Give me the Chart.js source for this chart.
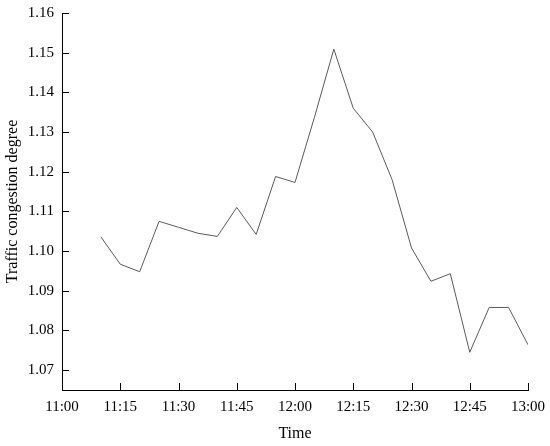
<!DOCTYPE html>
<html>
<head>
<meta charset="utf-8">
<script src="https://cdn.jsdelivr.net/npm/chart.js@4.4.0/dist/chart.umd.min.js"></script>
<style>
  html, body { margin: 0; padding: 0; background: #fff; }
  #wrap { width: 550px; height: 446px; position: relative; }
</style>
</head>
<body>
<div id="wrap"><canvas id="myChart"></canvas></div>
<script>
const times = ["11:10", "11:15", "11:20", "11:25", "11:30", "11:35", "11:40", "11:45", "11:50", "11:55",
  "12:00", "12:05", "12:10", "12:15", "12:20", "12:25", "12:30", "12:35", "12:40", "12:45",
  "12:50", "12:55", "13:00"];
const congestion = [1.1036, 1.0967, 1.0948, 1.1075, 1.1060, 1.1045, 1.1037, 1.1110, 1.1042, 1.1188,
  1.1173, 1.1337, 1.1509, 1.1360, 1.1300, 1.1180, 1.1008, 1.0924, 1.0943, 1.0745,
  1.0858, 1.0858, 1.0764];
const xTickLabels = ["11:00", "11:15", "11:30", "11:45", "12:00", "12:15", "12:30", "12:45", "13:00"];
const yTicks = [1.07, 1.08, 1.09, 1.10, 1.11, 1.12, 1.13, 1.14, 1.15, 1.16];

const toMin = t => { const p = t.split(":"); return +p[0] * 60 + +p[1]; };
const fmtMin = m => Math.floor(m / 60) + ":" + String(m % 60).padStart(2, "0");

const serif = "'Liberation Serif', 'Times New Roman', serif";

// inward tick marks on both axes
const innerTicks = {
  id: "innerTicks",
  afterDraw(chart) {
    const ctx = chart.ctx;
    const x = chart.scales.x, y = chart.scales.y;
    ctx.save();
    ctx.strokeStyle = "#000";
    ctx.lineWidth = 1;
    ctx.beginPath();
    x.ticks.forEach(t => {
      const px = Math.round(x.getPixelForValue(t.value)) + 0.5;
      ctx.moveTo(px, x.top);
      ctx.lineTo(px, x.top - 7);
    });
    y.ticks.forEach(t => {
      const py = Math.round(y.getPixelForValue(t.value)) + 0.5;
      ctx.moveTo(y.right, py);
      ctx.lineTo(y.right + 7, py);
    });
    ctx.stroke();
    ctx.restore();
  }
};

const data = {
  datasets: [{
    label: "Traffic congestion degree",
    data: times.map((t, i) => ({ x: toMin(t), y: congestion[i] })),
    borderColor: "#5a5a5a",
    borderWidth: 1,
    pointRadius: 0,
    tension: 0,
    fill: false
  }]
};

const config = {
  type: "line",
  data: data,
  options: {
    responsive: true,
    maintainAspectRatio: false,
    animation: false,
    layout: { padding: { top: 13, right: 22, left: 0, bottom: 0 } },
    plugins: { legend: { display: false }, tooltip: { enabled: false } },
    scales: {
      x: {
        type: "linear",
        min: toMin(xTickLabels[0]),
        max: toMin(xTickLabels[xTickLabels.length - 1]),
        afterBuildTicks: s => { s.ticks = xTickLabels.map(l => ({ value: toMin(l) })); },
        afterFit: s => { s.height = 56; s.paddingLeft = 0; s.paddingRight = 0; },
        grid: { display: false, drawTicks: false },
        border: { display: true, color: "#000", width: 1 },
        ticks: {
          color: "#000",
          padding: 8,
          maxRotation: 0,
          autoSkip: false,
          font: { family: serif, size: 15 },
          callback: v => fmtMin(v)
        },
        title: {
          display: true,
          text: "Time",
          color: "#000",
          padding: { top: 0, bottom: 3 },
          font: { family: serif, size: 16 }
        }
      },
      y: {
        min: 1.065,
        max: 1.16,
        afterBuildTicks: s => { s.ticks = yTicks.map(v => ({ value: v })); },
        afterFit: s => { s.width = 62; s.paddingTop = 0; s.paddingBottom = 0; },
        grid: { display: false, drawTicks: false },
        border: { display: true, color: "#000", width: 1 },
        ticks: {
          color: "#000",
          padding: 8,
          autoSkip: false,
          font: { family: serif, size: 15 },
          callback: v => v.toFixed(2)
        },
        title: {
          display: true,
          text: "Traffic congestion degree",
          color: "#000",
          padding: { top: 3, bottom: 0 },
          font: { family: serif, size: 16 }
        }
      }
    }
  },
  plugins: [innerTicks]
};

new Chart(document.getElementById("myChart").getContext("2d"), config);
</script>
</body>
</html>
